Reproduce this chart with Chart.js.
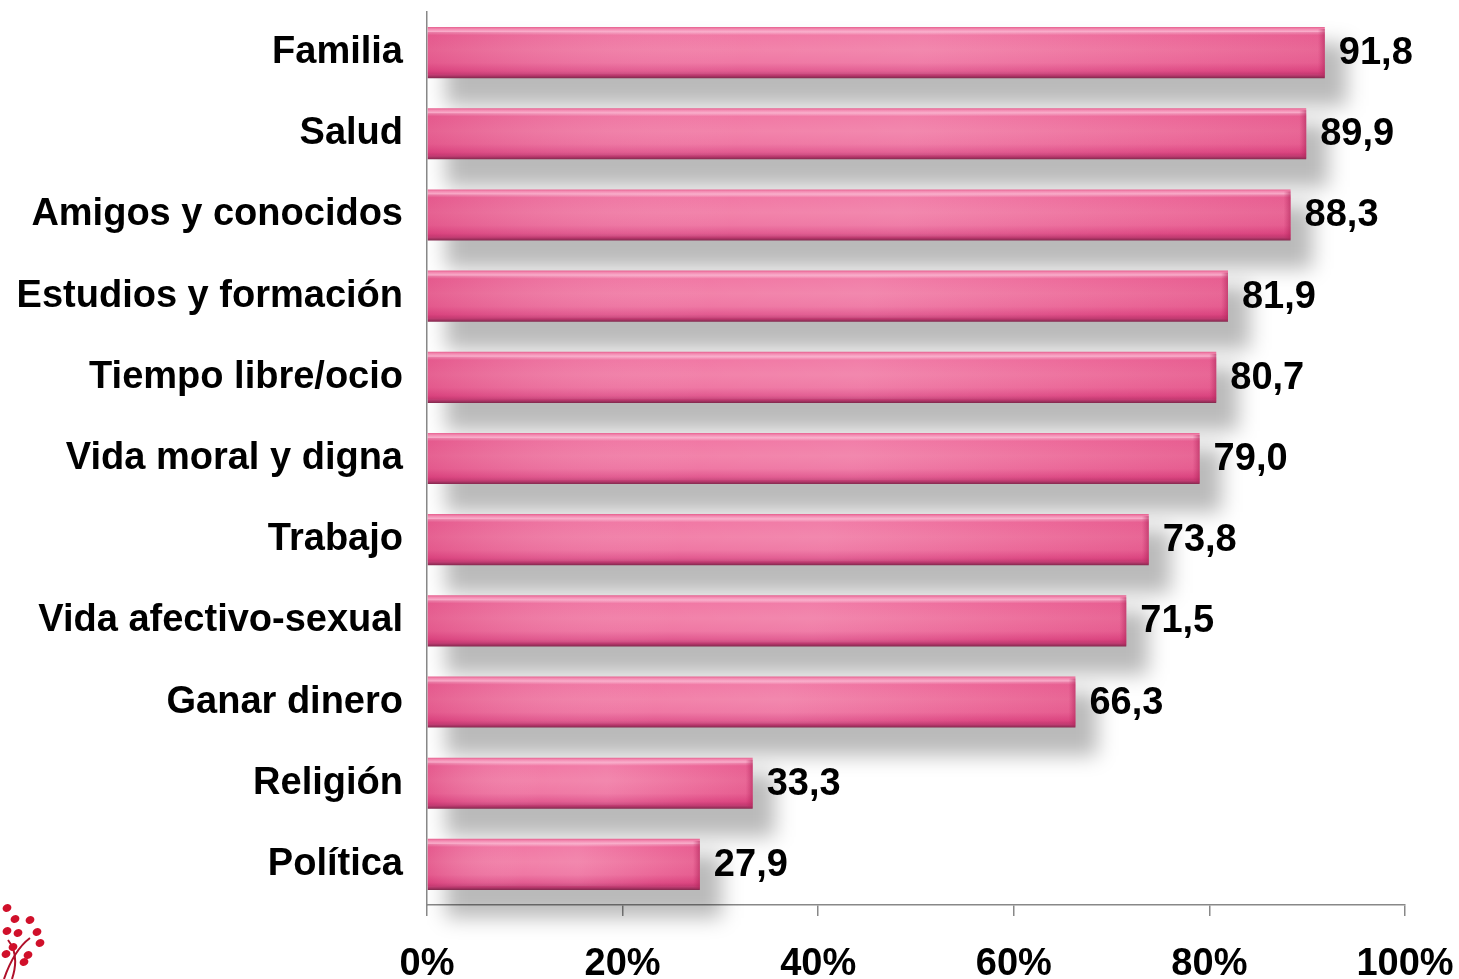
<!DOCTYPE html>
<html>
<head>
<meta charset="utf-8">
<script src="https://cdn.jsdelivr.net/npm/chart.js@4.4.1/dist/chart.umd.min.js"></script>
<style>
html,body{margin:0;padding:0;background:#fff;}
#wrap{width:1459px;height:979px;position:relative;}
</style>
</head>
<body>
<div id="wrap"><canvas id="c" width="1459" height="979"></canvas></div>
<script>
const categories = ["Familia","Salud","Amigos y conocidos","Estudios y formación","Tiempo libre/ocio","Vida moral y digna","Trabajo","Vida afectivo-sexual","Ganar dinero","Religión","Política"];
const values = [91.8,89.9,88.3,81.9,80.7,79.0,73.8,71.5,66.3,33.3,27.9];
const xTickValues = [0,20,40,60,80,100];

const FONT = "'Liberation Sans', Arial, sans-serif";
const BAR_FRACTION = 0.63;

function barGradient(context){
  const chart = context.chart;
  const ys = chart.scales && chart.scales.y;
  if(!ys || context.dataIndex === undefined) return '#ee6f9e';
  const center = ys.getPixelForValue(context.dataIndex);
  const h = (ys.height / categories.length) * BAR_FRACTION;
  if(!isFinite(center) || !isFinite(h)) return '#ee6f9e';
  const top = center - h/2, bot = center + h/2;
  const g = chart.ctx.createLinearGradient(0, top, 0, bot);
  g.addColorStop(0.00, '#e6608f');
  g.addColorStop(0.04, '#f38bb2');
  g.addColorStop(0.09, '#f9aecb');
  g.addColorStop(0.16, '#f0709f');
  g.addColorStop(0.45, '#f17ba5');
  g.addColorStop(0.70, '#ee6f9e');
  g.addColorStop(0.86, '#e05089');
  g.addColorStop(0.94, '#bf3b71');
  g.addColorStop(1.00, '#82284d');
  return g;
}

function barGeom(chart){
  const ys = chart.scales.y;
  return (ys.height / categories.length) * BAR_FRACTION;
}

const shadowPlugin = {
  id: 'barShadow',
  beforeDatasetsDraw(chart){
    const ctx = chart.ctx;
    const meta = chart.getDatasetMeta(0);
    const h = barGeom(chart);
    ctx.save();
    ctx.filter = 'blur(10px)';
    ctx.fillStyle = 'rgba(0,0,0,0.27)';
    meta.data.forEach(el => {
      const x0 = Math.min(el.base, el.x), x1 = Math.max(el.base, el.x);
      ctx.fillRect(x0 + 18, el.y - h/2 + 16, x1 - x0 + 4, h + 12);
    });
    ctx.restore();
  },
  afterDatasetsDraw(chart){
    const ctx = chart.ctx;
    const meta = chart.getDatasetMeta(0);
    const h = barGeom(chart);
    ctx.save();
    meta.data.forEach(el => {
      const x0 = Math.min(el.base, el.x), x1 = Math.max(el.base, el.x);
      const top = el.y - h/2;
      const g = ctx.createLinearGradient(x0, 0, x1, 0);
      g.addColorStop(0, 'rgba(200,30,95,0.28)');
      g.addColorStop(0.35, 'rgba(255,255,255,0.06)');
      g.addColorStop(0.55, 'rgba(255,255,255,0.10)');
      g.addColorStop(0.85, 'rgba(200,30,95,0.10)');
      g.addColorStop(1, 'rgba(200,30,95,0.22)');
      ctx.fillStyle = g;
      ctx.fillRect(x0, top + 5, x1 - x0, h - 9);
      const bg = ctx.createLinearGradient(x1 - 7, 0, x1, 0);
      bg.addColorStop(0, 'rgba(190,40,100,0)');
      bg.addColorStop(1, 'rgba(170,35,85,0.55)');
      ctx.fillStyle = bg;
      ctx.fillRect(x1 - 7, top + 2, 7, h - 3);
    });
    ctx.restore();
  }
};

const labelPlugin = {
  id: 'valueLabels',
  afterDraw(chart){
    const ctx = chart.ctx;
    const meta = chart.getDatasetMeta(0);
    ctx.save();
    ctx.font = "bold 38px " + FONT;
    ctx.fillStyle = '#000';
    ctx.textAlign = 'left';
    ctx.textBaseline = 'middle';
    meta.data.forEach((el, i) => {
      const txt = values[i].toFixed(1).replace('.', ',');
      ctx.fillText(txt, el.x + 14, el.y + 1);
    });
    ctx.restore();
  }
};

const logoPlugin = {
  id: 'logo',
  afterDraw(chart){
    const ctx = chart.ctx;
    ctx.save();
    ctx.fillStyle = '#d0102a';
    ctx.strokeStyle = '#b0102a';
    ctx.lineWidth = 2;
    ctx.beginPath(); ctx.moveTo(4,979); ctx.quadraticCurveTo(14,950,30,938); ctx.stroke();
    ctx.beginPath(); ctx.moveTo(12,979); ctx.quadraticCurveTo(20,955,8,940); ctx.stroke();
    const dots = [[7,908],[15,919],[30,920],[7,931],[18,933],[37,932],[13,947],[40,943],[6,954],[24,962],[28,955]];
    dots.forEach(d => { ctx.beginPath(); ctx.ellipse(d[0], d[1], 4.5, 3.8, -0.4, 0, Math.PI*2); ctx.fill(); });
    ctx.restore();
  }
};

const chart = new Chart(document.getElementById('c'), {
  type: 'bar',
  data: {
    labels: categories,
    datasets: [{
      data: values,
      backgroundColor: barGradient,
      borderWidth: 0,
      categoryPercentage: 1,
      barPercentage: BAR_FRACTION
    }]
  },
  options: {
    indexAxis: 'y',
    responsive: false,
    animation: false,
    devicePixelRatio: 1,
    layout: { autoPadding: false, padding: { top: 12, right: 54, left: 0, bottom: 0 } },
    plugins: { legend: { display: false }, tooltip: { enabled: false } },
    scales: {
      x: {
        min: 0, max: 100,
        afterBuildTicks(scale){ scale.ticks = xTickValues.map(v => ({value: v})); },
        afterFit(scale){ scale.height = 74; scale.paddingLeft = 0; scale.paddingRight = 0; },
        ticks: {
          callback: v => v + '%',
          color: '#000',
          font: { family: FONT, size: 38, weight: 'bold' },
          padding: 26,
          maxRotation: 0
        },
        grid: { display: true, drawOnChartArea: false, drawTicks: true, tickLength: 11, color: '#888', lineWidth: 1.5 },
        border: { display: true, color: '#888', width: 1.5 }
      },
      y: {
        afterFit(scale){ scale.width = 427; scale.paddingTop = 0; scale.paddingBottom = 0; },
        ticks: {
          color: '#000',
          font: { family: FONT, size: 38, weight: 'bold' },
          padding: 24,
          autoSkip: false
        },
        grid: { display: false, drawTicks: false },
        border: { display: true, color: '#888', width: 1.5 }
      }
    }
  },
  plugins: [shadowPlugin, labelPlugin, logoPlugin]
});
chart.update('none');
</script>
</body>
</html>
